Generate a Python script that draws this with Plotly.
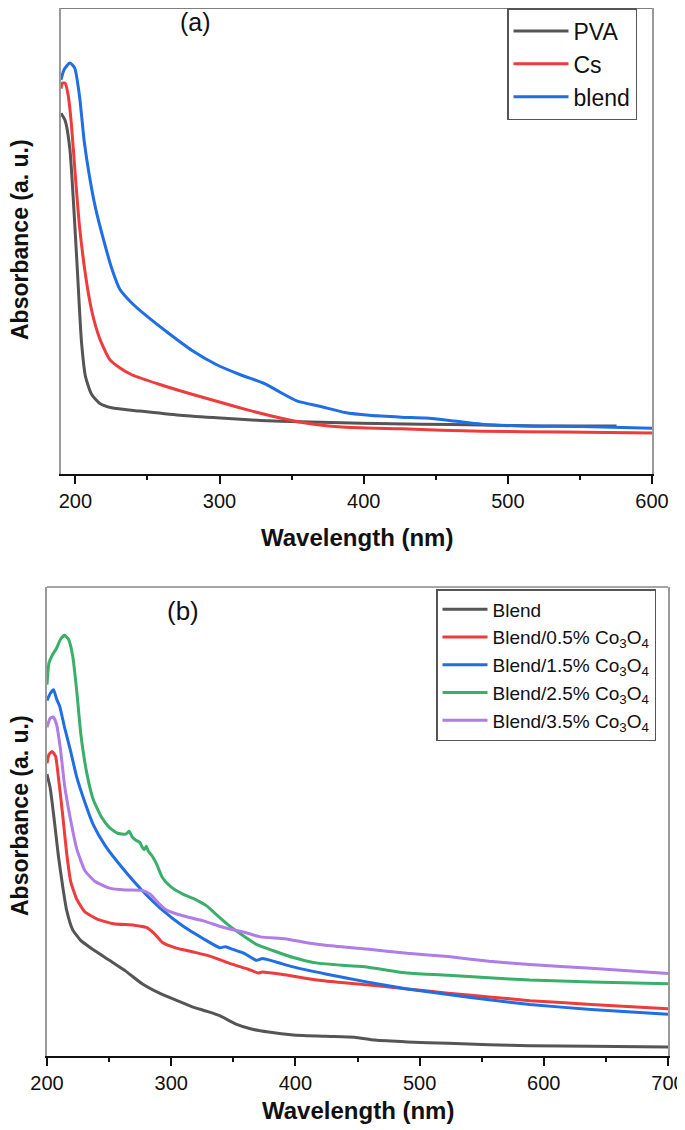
import plotly.graph_objects as go

# ---------------- Panel (a) data ----------------
pva_wl = [190, 192.8, 196.1, 198.6, 201.4, 204.2, 207, 211.2, 216.7, 225.1, 244.7, 272.6,
          300.5, 328.4, 356.3, 398.2, 440, 481.9, 523.8, 575.4]
pva_abs = [0.774, 0.759, 0.699, 0.586, 0.435, 0.284, 0.209, 0.171, 0.152, 0.142, 0.135, 0.126,
           0.120, 0.115, 0.112, 0.109, 0.107, 0.105, 0.103, 0.103]

cs_wl = [190, 191.1, 193.0, 195.0, 197.2, 200, 202.8, 207, 211.2, 216.7, 223.7, 230.7, 239.1,
         258.6, 280.9, 300.5, 320, 336.8, 356.3, 375.8, 398.2, 426.1, 454, 481.9, 537.7, 600]
cs_abs = [0.827, 0.839, 0.838, 0.812, 0.751, 0.638, 0.533, 0.427, 0.352, 0.292, 0.246, 0.228, 0.213,
          0.192, 0.171, 0.154, 0.137, 0.124, 0.111, 0.103, 0.099, 0.097, 0.094, 0.092, 0.090, 0.088]

blend_a_wl = [190, 192.2, 196.1, 199.4, 202.8, 206.1, 209.8, 214, 219.5, 225.1, 230.7, 239.1, 250.2,
              264.2, 280.9, 297.7, 314.4, 331.2, 342.3, 353.5, 370.2, 387, 403.7, 426.1, 442.8,
              459.6, 481.9, 509.8, 551.7, 600]
blend_a_abs = [0.846, 0.868, 0.882, 0.872, 0.812, 0.714, 0.638, 0.570, 0.503, 0.442, 0.397, 0.367, 0.337,
               0.303, 0.265, 0.235, 0.213, 0.194, 0.175, 0.157, 0.145, 0.132, 0.126, 0.122, 0.120,
               0.115, 0.107, 0.103, 0.102, 0.098]

# ---------------- Panel (b) data ----------------
blend_wl = [200, 202.6, 205.9, 209.2, 212.5, 215.8, 220.7, 227.3, 237.1, 250.3, 263.4, 276.6, 289.7,
            302.9, 316, 329.1, 339, 352.2, 365.3, 378.4, 398.2, 424.4, 447.5, 463.9, 490.2, 523,
            555.9, 588.8, 638.1, 700]
blend_abs = [0.601, 0.571, 0.502, 0.426, 0.364, 0.311, 0.269, 0.246, 0.227, 0.204, 0.181, 0.154, 0.135,
             0.120, 0.106, 0.095, 0.086, 0.068, 0.057, 0.051, 0.045, 0.042, 0.040, 0.034, 0.030, 0.027,
             0.024, 0.022, 0.021, 0.019]

co05_wl = [200, 201.6, 204.3, 206.9, 209.2, 212.5, 215.8, 219.1, 224, 230.6, 240.4, 253.6, 270,
           279.9, 286.4, 293, 302.9, 319.3, 332.4, 348.9, 362, 370.2, 373.5, 391.6, 408, 424.4,
           457.3, 490.2, 523, 555.9, 588.8, 638.1, 700]
co05_abs = [0.624, 0.643, 0.649, 0.639, 0.594, 0.517, 0.433, 0.372, 0.334, 0.307, 0.292, 0.282, 0.279,
            0.274, 0.261, 0.242, 0.231, 0.221, 0.212, 0.196, 0.185, 0.177, 0.179, 0.173, 0.166, 0.160,
            0.152, 0.143, 0.134, 0.126, 0.118, 0.110, 0.101]

co15_wl = [200, 202.6, 205.3, 207.6, 210.2, 214.1, 219.1, 224, 230.6, 237.1, 247, 260.1, 276.6,
           293, 309.4, 325.9, 339, 343.9, 348.9, 358.7, 368.6, 373.5, 385, 398.2, 424.4, 457.3,
           490.2, 523, 555.9, 588.8, 638.1, 700]
co15_abs = [0.758, 0.773, 0.781, 0.762, 0.746, 0.701, 0.649, 0.594, 0.540, 0.494, 0.448, 0.403, 0.353,
            0.311, 0.277, 0.250, 0.231, 0.233, 0.228, 0.219, 0.204, 0.208, 0.200, 0.190, 0.175, 0.158,
            0.143, 0.131, 0.120, 0.110, 0.099, 0.089]

co25_wl = [200, 201.6, 204.3, 207.6, 210.8, 214.1, 217.4, 220.7, 224, 227.3, 232.2, 237.1, 243.7,
           250.3, 256.9, 263.4, 266.1, 268.4, 271.6, 274.9, 276.5, 278.2, 280, 281.5, 284.8, 288.1,
           293, 299.6, 309.4, 319.3, 329.1, 335.7, 345.6, 355.4, 368.6, 381.7, 398.2, 417.9,
           440.9, 457.3, 473.7, 490.2, 523, 555.9, 588.8, 638.1, 700]
co25_abs = [0.792, 0.838, 0.855, 0.869, 0.888, 0.897, 0.888, 0.853, 0.777, 0.685, 0.601, 0.548, 0.510,
            0.487, 0.475, 0.473, 0.479, 0.468, 0.460, 0.455, 0.446, 0.440, 0.447, 0.437, 0.426, 0.410,
            0.380, 0.361, 0.345, 0.334, 0.319, 0.303, 0.280, 0.261, 0.238, 0.225, 0.210, 0.198,
            0.193, 0.190, 0.183, 0.177, 0.172, 0.167, 0.162, 0.158, 0.154]

co35_wl = [200, 202.6, 204.9, 207.6, 210.8, 214.1, 219.1, 224, 230.6, 238.8, 250.3, 263.4, 276.6,
           283.1, 289.7, 296.3, 309.4, 325.9, 342.3, 358.7, 371.9, 391.6, 408, 424.4, 457.3, 490.2,
           523, 555.9, 588.8, 638.1, 700]
co35_abs = [0.701, 0.720, 0.723, 0.708, 0.655, 0.578, 0.502, 0.441, 0.395, 0.372, 0.358, 0.354, 0.353,
            0.345, 0.326, 0.311, 0.299, 0.288, 0.274, 0.264, 0.254, 0.250, 0.242, 0.236, 0.228, 0.219,
            0.212, 0.202, 0.195, 0.187, 0.176]

names_a = ["PVA", "Cs", "blend"]
names_b = ["Blend",
           "Blend/0.5% Co<sub>3</sub>O<sub>4</sub>",
           "Blend/1.5% Co<sub>3</sub>O<sub>4</sub>",
           "Blend/2.5% Co<sub>3</sub>O<sub>4</sub>",
           "Blend/3.5% Co<sub>3</sub>O<sub>4</sub>"]

GRAY = "#555555"
RED = "#EE3B3B"
BLUE = "#1F6EE3"
GREEN = "#3AAF6A"
PURPLE = "#B07CE6"
FONT = "Liberation Sans, Arial, sans-serif"

fig = go.Figure()

series_a = [(pva_wl, pva_abs, GRAY), (cs_wl, cs_abs, RED), (blend_a_wl, blend_a_abs, BLUE)]
for i, (x, y, c) in enumerate(series_a):
    fig.add_trace(go.Scatter(x=x, y=y, mode="lines", name=names_a[i],
                             line=dict(color=c, width=3, shape="spline", smoothing=0.6),
                             xaxis="x", yaxis="y", legend="legend", legendgroup="a%d" % i))

series_b = [(blend_wl, blend_abs, GRAY), (co05_wl, co05_abs, RED), (co15_wl, co15_abs, BLUE),
            (co25_wl, co25_abs, GREEN), (co35_wl, co35_abs, PURPLE)]
for i, (x, y, c) in enumerate(series_b):
    fig.add_trace(go.Scatter(x=x, y=y, mode="lines", name=names_b[i],
                             line=dict(color=c, width=3, shape="spline", smoothing=0.5),
                             xaxis="x2", yaxis="y2", legend="legend2", legendgroup="b%d" % i))

# The page body has an 8px margin, so the figure is drawn 8px in from the window edge.
OFF = 8
W, H = 685 - OFF, 1130 - OFF

def px(x):
    return (x - OFF) / W

def py(y):
    return 1 - (y - OFF) / H

xa_dom = [px(61), px(652)]
ya_dom = [py(474), min(1.0, py(1))]
xb_dom = [px(47), px(668)]
yb_dom = [py(1056), py(587)]

def xaxis(dom, rng, anchor):
    return dict(domain=dom, range=rng, anchor=anchor, automargin=False, showline=True,
                linecolor="#111111", linewidth=1.5, mirror=False, ticks="outside", ticklen=8,
                tickwidth=1.5, tickcolor="#111111", dtick=100, tick0=0, showgrid=False,
                zeroline=False, tickfont=dict(family=FONT, size=20, color="#111111"),
                minor=dict(ticks="outside", ticklen=4, tickwidth=1.5, tickcolor="#111111",
                           dtick=50, tick0=0, showgrid=False))

def yaxis(dom, anchor):
    return dict(domain=dom, range=[0, 1], anchor=anchor, automargin=False, showline=True,
                linecolor="#9a9a9a", linewidth=1.5, mirror=True, ticks="",
                showticklabels=False, showgrid=False, zeroline=False)

fig.update_layout(
    width=W, height=H, margin=dict(l=0, r=0, t=0, b=0, autoexpand=False),
    paper_bgcolor="white", plot_bgcolor="white",
    font=dict(family=FONT, color="#111111"),
    xaxis=xaxis(xa_dom, [190, 600], "y"),
    yaxis=yaxis(ya_dom, "x"),
    xaxis2=xaxis(xb_dom, [200, 700], "y2"),
    yaxis2=yaxis(yb_dom, "x2"),
    legend=dict(x=px(507), y=py(8), xanchor="left", yanchor="top",
                bordercolor="#555555", borderwidth=1.5, bgcolor="white",
                font=dict(family=FONT, size=23, color="#111111"),
                tracegroupgap=0, traceorder="grouped", itemwidth=55),
    legend2=dict(x=px(436), y=py(589), xanchor="left", yanchor="top",
                 bordercolor="#555555", borderwidth=1.5, bgcolor="white",
                 font=dict(family=FONT, size=19, color="#111111"),
                 tracegroupgap=0, traceorder="grouped", itemwidth=45),
    showlegend=True,
)

# top spines
fig.add_shape(type="line", xref="x domain", yref="y domain", x0=0, x1=1, y0=1, y1=1,
              line=dict(color="#555555", width=1.5))
fig.add_shape(type="line", xref="x2 domain", yref="y2 domain", x0=0, x1=1, y0=1, y1=1,
              line=dict(color="#888888", width=1.5))

annots = [
    dict(text="(a)", x=px(195), y=py(22), font=dict(size=25)),
    dict(text="(b)", x=px(183), y=py(611), font=dict(size=26)),
    dict(text="<b>Wavelength (nm)</b>", x=px(356.5), y=py(537), font=dict(size=24)),
    dict(text="<b>Wavelength (nm)</b>", x=px(357.5), y=py(1110), font=dict(size=24)),
    dict(text="<b>Absorbance (a. u.)</b>", x=px(20), y=py(240), font=dict(size=23), textangle=-90),
    dict(text="<b>Absorbance (a. u.)</b>", x=px(20), y=py(816), font=dict(size=23), textangle=-90),
]
for a in annots:
    f = dict(family=FONT, color="#111111")
    f.update(a.pop("font"))
    fig.add_annotation(xref="paper", yref="paper", xanchor="center", yanchor="middle",
                       showarrow=False, font=f, **a)

fig.write_html("out.html")
